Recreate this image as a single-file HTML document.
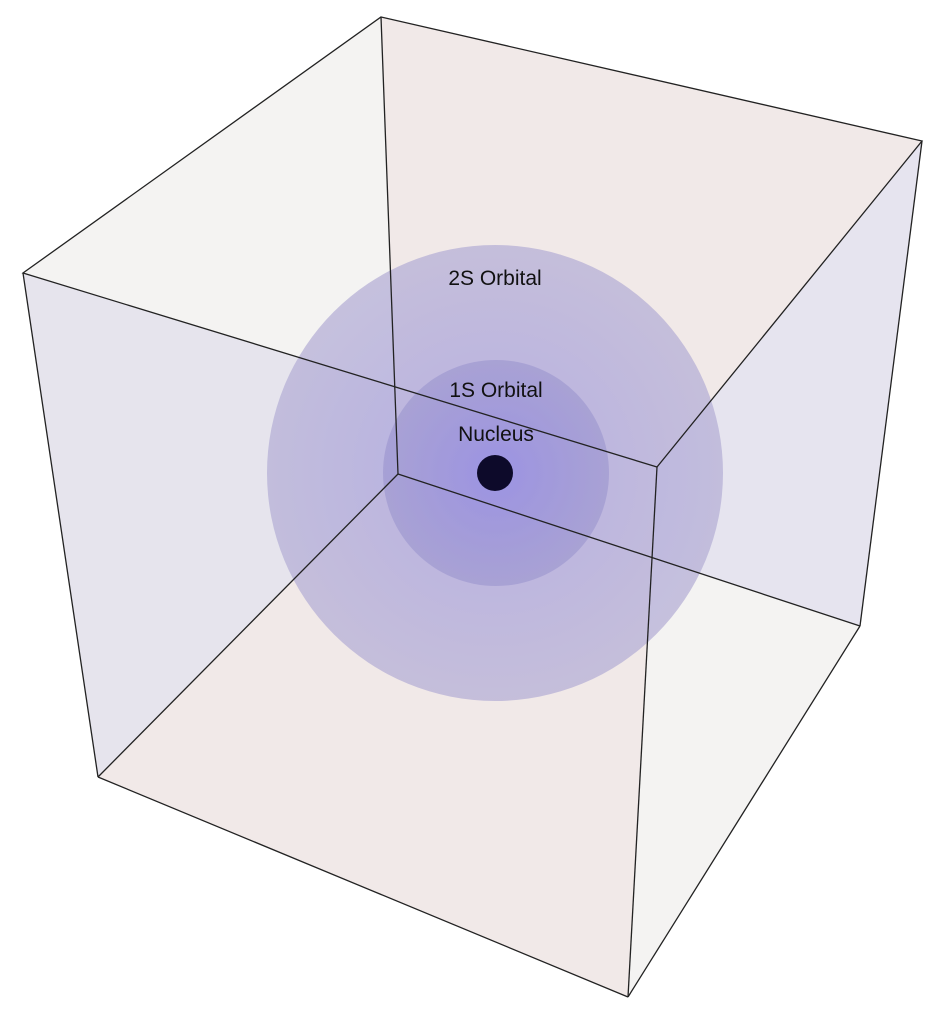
<!DOCTYPE html>
<html><head><meta charset="utf-8"><style>
html,body{margin:0;padding:0;background:#fff;}
svg{display:block;}
text{font-family:"Liberation Sans",Arial,sans-serif;font-size:21px;fill:#111;text-anchor:middle;}
</style></head><body>
<svg width="944" height="1024" viewBox="0 0 944 1024" xmlns="http://www.w3.org/2000/svg">
<defs>
<radialGradient id="g2" cx="0.5" cy="0.5" r="0.5">
<stop offset="0" stop-color="#a39ce0" stop-opacity="0.75"/>
<stop offset="1" stop-color="#b6b0d6" stop-opacity="0.75"/>
</radialGradient>
<radialGradient id="g1" cx="0.5" cy="0.5" r="0.5">
<stop offset="0" stop-color="#8a80e4" stop-opacity="0.6"/>
<stop offset="1" stop-color="#8f88c8" stop-opacity="0.45"/>
</radialGradient>
</defs>
<!-- pink base -->
<polygon points="381,17 922,141 860,626 628,997 98,777 23,273" fill="#f1e9e8"/>
<!-- grey top-left -->
<polygon points="23,273 381,17 395,387" fill="#f4f3f2"/>
<!-- lavender left -->
<polygon points="23,273 395,387 398,474 98,777" fill="#e6e4ed"/>
<!-- lavender right -->
<polygon points="657,467 922,141 860,626 652,558" fill="#e6e4ef"/>
<!-- grey bottom right -->
<polygon points="652,558 860,626 628,997" fill="#f4f3f2"/>
<!-- spheres -->
<circle cx="495" cy="473" r="228" fill="url(#g2)"/>
<circle cx="496" cy="473" r="113" fill="url(#g1)"/>
<circle cx="495" cy="473" r="18" fill="#0d0a2a"/>
<!-- edges -->
<g stroke="#222" stroke-width="1.3" fill="none">
<polygon points="381,17 922,141 657,467 23,273"/>
<line x1="381" y1="17" x2="398" y2="474"/>
<line x1="23" y1="273" x2="98" y2="777"/>
<line x1="657" y1="467" x2="628" y2="997"/>
<line x1="922" y1="141" x2="860" y2="626"/>
<line x1="98" y1="777" x2="398" y2="474"/>
<line x1="398" y1="474" x2="860" y2="626"/>
<line x1="98" y1="777" x2="628" y2="997"/>
<line x1="628" y1="997" x2="860" y2="626"/>
</g>
<text x="495" y="285">2S Orbital</text>
<text x="496" y="397">1S Orbital</text>
<text x="496" y="441">Nucleus</text>
</svg>
</body></html>
